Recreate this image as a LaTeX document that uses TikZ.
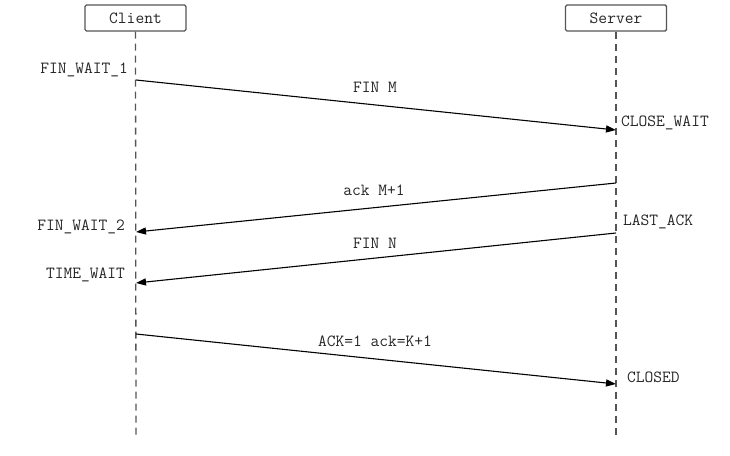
\documentclass[tikz,border=0pt]{standalone}
\usepackage{fontspec}
\usetikzlibrary{arrows.meta}
\definecolor{lifegray}{HTML}{555555}
\begin{document}
\begin{tikzpicture}[x=1pt,y=-1pt,
  every node/.style={font=\ttfamily\fontsize{17}{19}\selectfont, inner sep=0pt, text=black!85},
  actor/.style={draw=lifegray, line width=1.4pt, rounded corners=1.5pt, minimum width=101pt, minimum height=26pt, fill=white},
  lifeline/.style={draw=lifegray, line width=1.3pt, dash pattern=on 7pt off 5pt},
  msg/.style={draw=black, line width=1.1pt, -{Triangle[length=10pt,width=7pt]}},
  state/.style={}]
\useasboundingbox (0,0) rectangle (730,455);
\node[actor] (client) at (135.5,18) {Client};
\node[actor] (server) at (616,18) {Server};
\coordinate (cend) at (136,436);
\coordinate (send) at (616,436);
\draw[lifeline] (client.south) -- (cend);
\draw[lifeline] (server.south) -- (send);
% message endpoints
\coordinate (c1) at (136,80);  \coordinate (s1) at (616,130);
\coordinate (s2) at (616,183); \coordinate (c2) at (136,232);
\coordinate (s3) at (616,233); \coordinate (c3) at (136,283);
\coordinate (c4) at (136,334); \coordinate (s4) at (616,384);
\draw[msg] (c1) -- (s1);
\draw[msg] (s2) -- (c2);
\draw[msg] (s3) -- (c3);
\draw[msg] (c4) -- (s4);
\node (l1) at (375,87) {FIN M};
\node (l2) at (374,190) {ack M+1};
\node (l3) at (375,243) {FIN N};
\node (l4) at (375,341) {ACK=1 ack=K+1};
\node[state, anchor=east] (fw1) at (128,70) {FIN\_WAIT\_1};
\node[state, anchor=east] (fw2) at (125,227) {FIN\_WAIT\_2};
\node[state, anchor=east] (tw) at (125,275) {TIME\_WAIT};
\node[state, anchor=west] (cw) at (621,123) {CLOSE\_WAIT};
\node[state, anchor=west] (la) at (623,222) {LAST\_ACK};
\node[state, anchor=west] (cl) at (627,377) {CLOSED};
\end{tikzpicture}
\end{document}
